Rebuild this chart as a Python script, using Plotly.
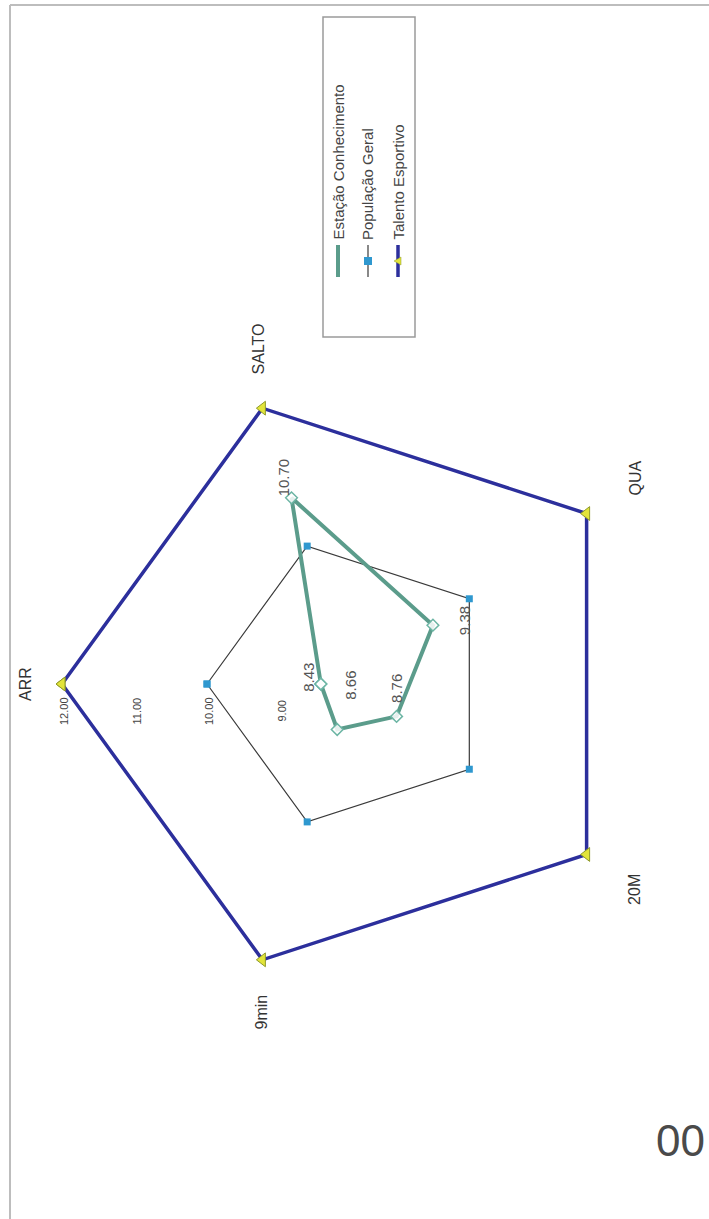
import math
import plotly.graph_objects as go

# ---------------- data ----------------
categories = ["ARR", "SALTO", "QUA", "20M", "9min"]
estacao_conhecimento = [8.43, 10.70, 9.38, 8.76, 8.66]
populacao_geral = [10.00, 10.00, 10.00, 10.00, 10.00]
talento_esportivo = [12.00, 12.00, 12.00, 12.00, 12.00]
radial_ticks = [9, 10, 11, 12]
radial_tick_labels = ["9.00", "10.00", "11.00", "12.00"]
series_names = ["Estação Conhecimento", "População Geral", "Talento Esportivo"]

# ---------------- layout constants ----------------
W, H = 709, 1219
CX, CY, R = 352, 684, 290          # polar centre / radius in px
RMIN, RMAX = 8, 12
FONT = "Liberation Sans, Arial, sans-serif"

GREEN = "#5b9c8b"
BLACK = "#3a3a3a"
SQUARE = "#2f98cf"
BLUE = "#2c2f9c"
YELLOW = "#e2e43a"


def px(x, y):
    return x / W, 1 - y / H


def cat_angle(i):
    return math.radians(180 - 72 * i)


def point_px(r, i):
    d = (r - RMIN) / (RMAX - RMIN) * R
    a = cat_angle(i)
    return CX + d * math.cos(a), CY - d * math.sin(a)


def closed(v):
    return list(v) + [v[0]]


fig = go.Figure()

fig.add_trace(go.Scatterpolar(
    r=closed(talento_esportivo), theta=closed(categories), name=series_names[2],
    mode="lines+markers",
    line=dict(color=BLUE, width=3.5),
    marker=dict(symbol="triangle-left", size=12, color=YELLOW,
                line=dict(color="#8f9a2a", width=1)),
))
fig.add_trace(go.Scatterpolar(
    r=closed(populacao_geral), theta=closed(categories), name=series_names[1],
    mode="lines+markers",
    line=dict(color=BLACK, width=1.2),
    marker=dict(symbol="square", size=7, color=SQUARE),
))
fig.add_trace(go.Scatterpolar(
    r=closed(estacao_conhecimento), theta=closed(categories), name=series_names[0],
    mode="lines+markers",
    line=dict(color=GREEN, width=4),
    marker=dict(symbol="diamond", size=9, color="rgba(255,255,255,0.85)",
                line=dict(color="#6cb5a4", width=1.5)),
))

annotations = []
shapes = []

# category labels (rotated like the scanned page)
label_r = [327, 352, 350, 350, 345]
label_dx = [0, 15, 0, 0, 16]
for i, c in enumerate(categories):
    a = cat_angle(i)
    x, y = px(CX + label_r[i] * math.cos(a) + label_dx[i], CY - label_r[i] * math.sin(a))
    annotations.append(dict(x=x, y=y, xref="paper", yref="paper", text=c,
                            showarrow=False, textangle=-90,
                            font=dict(family=FONT, size=16, color="#333"),
                            xanchor="center", yanchor="middle"))

# data labels for Estação Conhecimento
label_offsets = [(-13, -7), (-8, -20), (31, -5), (0, -28), (13, -44)]
for i, v in enumerate(estacao_conhecimento):
    x0, y0 = point_px(v, i)
    dx, dy = label_offsets[i]
    x, y = px(x0 + dx, y0 + dy)
    annotations.append(dict(x=x, y=y, xref="paper", yref="paper", text=f"{v:.2f}",
                            showarrow=False, textangle=-90,
                            font=dict(family=FONT, size=15, color="#555"),
                            xanchor="center", yanchor="middle"))

# radial tick labels (along ARR axis, rotated)
for t, tl in zip(radial_ticks, radial_tick_labels):
    x0, y0 = point_px(t, 0)
    x, y = px(x0 + 2, y0 + 27)
    annotations.append(dict(x=x, y=y, xref="paper", yref="paper", text=tl,
                            showarrow=False, textangle=-90,
                            font=dict(family=FONT, size=11, color="#444"),
                            xanchor="center", yanchor="middle"))

# ---- manual rotated legend ----
lx0, ly0 = px(323, 17)
lx1, ly1 = px(415, 337)
shapes.append(dict(type="rect", xref="paper", yref="paper", x0=lx0, x1=lx1, y0=ly1, y1=ly0,
                   line=dict(color="#9a9a9a", width=1.5), fillcolor="white", layer="below"))
leg_x = [338, 368, 398]
leg_cols = [GREEN, BLACK, BLUE]
leg_w = [4, 1.2, 3.5]
for k in range(3):
    xa, ya = px(leg_x[k], 277)
    xb, yb = px(leg_x[k], 245)
    shapes.append(dict(type="line", xref="paper", yref="paper", x0=xa, x1=xb, y0=ya, y1=yb,
                       line=dict(color=leg_cols[k], width=leg_w[k])))
    tx, ty = px(leg_x[k], 242)
    annotations.append(dict(x=tx, y=ty, xref="paper", yref="paper", text=series_names[k],
                            showarrow=False, textangle=-90,
                            font=dict(family=FONT, size=15, color="#444"),
                            xanchor="center", yanchor="bottom"))
# legend marker samples
sx0, sy0 = px(368 - 4, 261 - 4)
sx1, sy1 = px(368 + 4, 261 + 4)
shapes.append(dict(type="rect", xref="paper", yref="paper", x0=sx0, x1=sx1, y0=sy1, y1=sy0,
                   line=dict(color=SQUARE, width=0), fillcolor=SQUARE))
p = [px(394, 261), px(401, 257), px(401, 265)]
shapes.append(dict(type="path", xref="paper", yref="paper",
                   path=f"M {p[0][0]} {p[0][1]} L {p[1][0]} {p[1][1]} L {p[2][0]} {p[2][1]} Z",
                   line=dict(color="#8f9a2a", width=0.5), fillcolor=YELLOW))

# page frame
fx0, fy0 = px(10, 5)
fx1, fy1 = px(W + 20, H + 20)
shapes.append(dict(type="line", xref="paper", yref="paper", x0=fx0, x1=fx1, y0=fy0, y1=fy0,
                   line=dict(color="#bdbdbd", width=2)))
shapes.append(dict(type="line", xref="paper", yref="paper", x0=fx0, x1=fx0, y0=fy0, y1=fy1,
                   line=dict(color="#bdbdbd", width=2)))

# stray page number fragment
zx, zy = px(707, 1140)
annotations.append(dict(x=zx, y=zy, xref="paper", yref="paper", text="00",
                        showarrow=False, font=dict(family=FONT, size=44, color="#4a4a4a"),
                        xanchor="right", yanchor="middle"))

dx0, _ = px(CX - R, 0)
dx1, _ = px(CX + R, 0)
_, dy0 = px(0, CY + R)
_, dy1 = px(0, CY - R)

fig.update_layout(
    width=W, height=H,
    margin=dict(l=0, r=0, t=0, b=0),
    paper_bgcolor="white",
    showlegend=False,
    font=dict(family=FONT),
    polar=dict(
        domain=dict(x=[dx0, dx1], y=[dy0, dy1]),
        bgcolor="rgba(0,0,0,0)",
        angularaxis=dict(rotation=180, direction="clockwise", showgrid=False,
                         showline=False, showticklabels=False, ticks=""),
        radialaxis=dict(range=[RMIN, RMAX], showgrid=False, showline=False,
                        showticklabels=False, ticks=""),
    ),
    annotations=annotations,
    shapes=shapes,
)

fig.write_html("out.html", config={"displayModeBar": False},
               post_script="document.body.style.margin='0';document.body.style.overflow='hidden';")
